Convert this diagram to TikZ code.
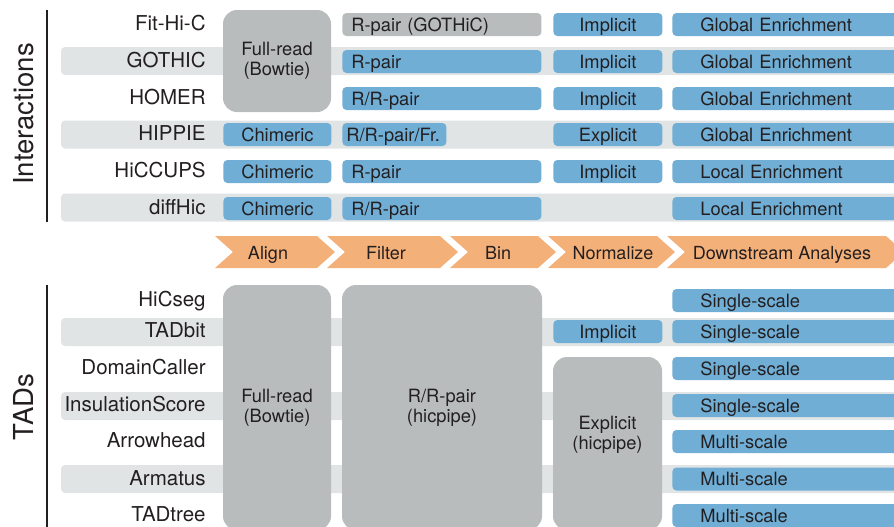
\documentclass[tikz,border=0pt]{standalone}
\usepackage{fontspec}
\setmainfont{TeX Gyre Heros}
\usepackage{tikz}

\definecolor{ink}{RGB}{35,31,32}
\definecolor{cellblue}{RGB}{112,174,214}
\definecolor{boxgray}{RGB}{184,188,188}
\definecolor{bandgray}{RGB}{225,228,229}
\definecolor{chevorange}{RGB}{244,176,121}

\begin{document}
\begin{tikzpicture}[x=0.5pt,y=-0.5pt,
  every node/.style={text=ink},
  heading/.style={rotate=90,inner sep=0pt,font=\fontsize{13.75}{16}\selectfont,text height=9.9pt,text depth=0pt},
  tool/.style={anchor=east,inner sep=0pt,font=\fontsize{10.25}{12}\selectfont,text height=7.4pt,text depth=0pt},
  band/.style={fill=bandgray,rounded corners=2pt},
  cell/.style={anchor=west,fill=cellblue,rounded corners=2pt,minimum height=11.5pt,inner ysep=0pt,
    font=\fontsize{9.15}{11}\selectfont,text height=6.6pt,text depth=0pt},
  alncell/.style={cell,minimum width=54pt,inner xsep=0pt},
  fltcell/.style={cell,text width=90.5pt,inner xsep=4.5pt,align=left},
  nrmcell/.style={cell,minimum width=54.5pt,inner xsep=0pt},
  dwncell/.style={cell,text width=87pt,inner xsep=14pt,align=left},
  bigbox/.style={fill=boxgray,rounded corners=7pt,inner sep=0pt,align=center,font=\fontsize{9.15}{10}\selectfont},
  chev/.style={fill=chevorange},
  stage/.style={inner sep=0pt,font=\fontsize{9}{11}\selectfont,text height=6.5pt,text depth=0pt}]

\useasboundingbox (0,0) rectangle (894,526);
\clip (0,0) rectangle (894,526);

% background bands on every other row
\fill[band] (61,47) rectangle (900,75);
\fill[band] (61,120.5) rectangle (900,148.5);
\fill[band] (61,193.5) rectangle (900,221.5);
\fill[band] (61,318) rectangle (900,346);
\fill[band] (61,392) rectangle (900,420);
\fill[band] (61,465) rectangle (900,493);

% side headings
\node[heading] (inter) at (24,114) {Interactions};
\draw[ink,line width=1pt] (47,10) -- (47,222);
\node[heading] (tads) at (24,407) {TADs};
\draw[ink,line width=1pt] (47,285) -- (47,530);

% interaction callers
\node[tool] (fithic) at (206,23.5) {Fit-Hi-C};
\node[tool] (gothic) at (206,60.5) {GOTHIC};
\node[tool] (homer) at (206,97.5) {HOMER};
\node[tool] (hippie) at (206,133.5) {HIPPIE};
\node[tool] (hiccups) at (206,170.5) {HiCCUPS};
\node[tool] (diffhic) at (206,207.5) {diffHic};

\node[bigbox,minimum width=54pt,minimum height=51pt] (fullrdI) at (277,61) {Full-read\\(Bowtie)};
\node[alncell] (chimA) at (223,134.5) {Chimeric};
\node[alncell] (chimB) at (223,171.5) {Chimeric};
\node[alncell] (chimC) at (223,208.5) {Chimeric};

\node[fltcell,fill=boxgray] (fltA) at (342,24.5) {R-pair (GOTHiC)};
\node[fltcell] (fltB) at (342,61.5) {R-pair};
\node[fltcell] (fltC) at (342,98.5) {R/R-pair};
\node[cell,text width=48pt,inner xsep=2pt,align=left] (fltD) at (342,134.5) {\mbox{R/R-pair/Fr.}};
\node[fltcell] (fltE) at (342,171.5) {R-pair};
\node[fltcell] (fltF) at (342,208.5) {R/R-pair};

\node[nrmcell] (nrmA) at (553,24.5) {Implicit};
\node[nrmcell] (nrmB) at (553,61.5) {Implicit};
\node[nrmcell] (nrmC) at (553,98.5) {Implicit};
\node[nrmcell] (nrmD) at (553,134.5) {Explicit};
\node[nrmcell] (nrmE) at (553,171.5) {Implicit};

\node[dwncell] (dwnA) at (672,24.5) {Global Enrichment};
\node[dwncell] (dwnB) at (672,61.5) {Global Enrichment};
\node[dwncell] (dwnC) at (672,98.5) {Global Enrichment};
\node[dwncell] (dwnD) at (672,134.5) {Global Enrichment};
\node[dwncell] (dwnE) at (672,171.5) {Local Enrichment};
\node[dwncell] (dwnF) at (672,208.5) {Local Enrichment};

% pipeline stages
\fill[chev] (215,236) -- (317,236) -- (335,252) -- (317,268) -- (215,268) -- (233,252) -- cycle;
\fill[chev] (327,236) -- (440,236) -- (458,252) -- (440,268) -- (327,268) -- (345,252) -- cycle;
\fill[chev] (450,236) -- (538,236) -- (556,252) -- (538,268) -- (450,268) -- (468,252) -- cycle;
\fill[chev] (548,236) -- (657,236) -- (675,252) -- (657,268) -- (548,268) -- (566,252) -- cycle;
\fill[chev] (667,236) -- (886,236) -- (904,252) -- (886,268) -- (667,268) -- (685,252) -- cycle;
\node[stage] (align) at (268,253) {Align};
\node[stage] (filter) at (386,253) {Filter};
\node[stage] (bin) at (498,253) {Bin};
\node[stage] (normalize) at (613,253) {Normalize};
\node[stage] (downstream) at (782,253) {Downstream Analyses};

% TAD callers
\node[tool] (hicseg) at (206,299.5) {HiCseg};
\node[tool] (tadbit) at (206,330.5) {TADbit};
\node[tool] (domcaller) at (206,367.5) {DomainCaller};
\node[tool] (insscore) at (206,404.5) {InsulationScore};
\node[tool] (arrowhead) at (206,440.5) {Arrowhead};
\node[tool] (armatus) at (206,478) {Armatus};
\node[tool] (tadtree) at (206,514.5) {TADtree};

\node[bigbox,minimum width=54pt,minimum height=122.5pt] (fullrdT) at (277,407.5) {Full-read\\(Bowtie)};
\node[bigbox,minimum width=100pt,minimum height=122.5pt] (rrpairT) at (442,407.5) {R/R-pair\\(hicpipe)};
\node[nrmcell] (nrmT) at (553,331.5) {Implicit};
\node[bigbox,minimum width=54.5pt,minimum height=86.5pt] (explT) at (607.5,443.5) {};
\node[bigbox,fill=none] (expltxt) at (607.5,435) {Explicit\\(hicpipe)};

\node[dwncell] (dwnT1) at (672,300.5) {Single-scale};
\node[dwncell] (dwnT2) at (672,331.5) {Single-scale};
\node[dwncell] (dwnT3) at (672,368.5) {Single-scale};
\node[dwncell] (dwnT4) at (672,405.5) {Single-scale};
\node[dwncell] (dwnT5) at (672,441.5) {Multi-scale};
\node[dwncell] (dwnT6) at (672,479) {Multi-scale};
\node[dwncell] (dwnT7) at (672,515.5) {Multi-scale};
\end{tikzpicture}
\end{document}
